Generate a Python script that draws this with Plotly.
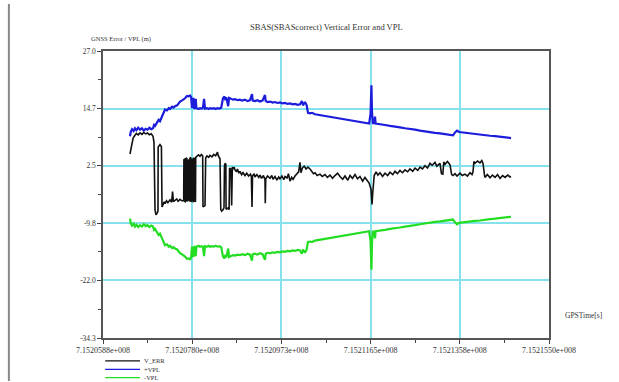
import plotly.graph_objects as go

# GPS epoch of the first x tick and spacing of the x ticks (seconds)
gps_t0 = 715205880
x_tick_step = 1924
x_tick_labels = ["7.1520588e+008", "7.1520780e+008", "7.1520973e+008",
                 "7.1521165e+008", "7.1521358e+008", "7.1521550e+008"]

y_tick_vals = [27.0, 14.7, 2.5, -9.8, -22.0, -34.3]
y_tick_labels = ["27.0", "14.7", "2.5", "-9.8", "-22.0", "-34.3"]

# Vertical position error (m), time offsets in seconds from gps_t0
err_t = [582, 600, 626, 650, 690, 720, 760, 798, 840, 880, 920, 960, 1000, 1040, 1079, 1100,
         1122, 1143, 1170, 1186, 1190, 1229, 1260, 1273, 1294, 1320, 1337, 1370, 1400, 1445,
         1480, 1500, 1520, 1553, 1590, 1620, 1661, 1700,
         1740, 1745, 1765, 1770, 1790, 1795, 1810, 1815, 1830, 1835, 1850, 1855, 1870, 1875,
         1890, 1895, 1910, 1915, 1930, 1935, 1950, 1955, 1975, 1980, 1995, 2000, 2020, 2028,
         2060, 2092, 2120, 2150, 2157, 2200, 2215, 2243, 2280, 2308, 2350, 2390, 2430, 2470,
         2481, 2510, 2524, 2540, 2560, 2588, 2610, 2620, 2632, 2650, 2655, 2700, 2720, 2730,
         2760, 2775, 2790, 2810, 2830, 2847, 2880, 2900, 2930, 2955, 2990, 3020, 3063, 3100,
         3140, 3180, 3200, 3214, 3225, 3260, 3279, 3320, 3360, 3386, 3420, 3460, 3494, 3500,
         3510, 3550, 3602, 3640, 3667, 3710, 3750, 3790, 3818, 3860, 3900, 3926, 3970, 4000,
         4034, 4070, 4100, 4141, 4180, 4220, 4249, 4270, 4300, 4340, 4380, 4420, 4465, 4508,
         4540, 4573, 4620, 4681, 4730, 4789, 4840, 4896, 4950, 5004, 5060, 5112, 5170, 5220,
         5280, 5328, 5380, 5436, 5490, 5543, 5600, 5651, 5700, 5740, 5780, 5802, 5820, 5850,
         5890, 5930, 5975, 6030, 6083, 6140, 6191, 6250, 6298, 6350, 6406, 6460, 6514, 6570,
         6622, 6680, 6730, 6790, 6838, 6890, 6946, 7000, 7053, 7100, 7161, 7200, 7269, 7300,
         7330, 7350, 7377, 7430, 7485, 7520, 7550, 7593, 7636, 7700, 7750, 7808, 7860, 7916,
         7960, 7981, 8000, 8024, 8080, 8132, 8170, 8197, 8230, 8240, 8290, 8348, 8400, 8456,
         8510, 8564, 8620, 8672, 8730, 8780, 8801]
err_v = [5.0, 6.0, 7.2, 8.4, 9.0, 9.4, 9.1, 9.5, 9.2, 9.6, 9.3, 9.5, 9.1, 9.3, 8.8, 7.5,
         -7.0, -8.0, -7.6, -7.2, 6.5, 7.0, 6.6, -6.3, -5.8, -5.2, -5.6, -5.0, -5.4, -4.8,
         -5.3, -3.0, -5.2, -5.0, -4.6, -5.1, -4.7, -5.0,
         -5.0, 3.8, 3.9, -5.3, -5.0, 4.2, 4.0, -5.1, -4.9, 3.5, 3.8, -4.8, -5.1, 4.1,
         4.3, -5.2, -5.0, 4.0, 3.8, -4.9, -5.3, 4.2, 4.0, -5.0, -5.2, 4.3, 4.5, 4.4,
         4.8, 4.5, 4.9, 4.6, -6.3, -6.0, 4.2, 4.6, 4.3, 4.7, 4.4, 4.9, 4.6, 5.4,
         4.8, 4.2, 4.0, -6.8, -7.2, -6.9, -6.5, 2.5, 3.0, 2.8, -6.8, -6.5, -6.9, 2.0,
         1.8, -6.0, 2.2, 1.9, 2.2, 1.6, 1.2, 1.8, 0.9, 1.3, 0.6, 1.0, 0.4, 0.9,
         0.3, 0.7, 0.2, -6.3, 0.3, 0.8, 0.1, 0.6, 0.0, 0.5, -0.2, 0.4, -0.5, -5.5,
         -0.3, 0.3, -0.2, 0.4, -0.4, 0.2, -0.6, 0.1, -0.3, 0.3, -0.5, 0.2, -0.1, 0.8,
         -0.8, 0.0, -0.4, 0.3, 0.7, 1.2, 3.2, 1.0, 2.0, 2.4, 1.8, 2.2, 1.8, 1.2,
         0.8, 1.0, 0.4, 0.7, 0.2, 0.6, 0.0, 0.5, -0.2, 0.4, 0.9, 0.2, -0.4, 0.3,
         -0.6, 0.4, -0.2, 0.6, -0.3, 0.2, -0.8, 0.0, -0.6, -1.2, -2.5, -5.8, -3.0, 0.4,
         1.2, 0.5, 1.0, 0.2, 0.9, 0.4, 1.1, 0.6, 1.3, 0.8, 1.5, 1.0, 1.6, 1.2,
         1.8, 1.3, 2.0, 1.5, 2.2, 1.8, 2.5, 2.0, 3.0, 2.6, 3.2, 2.4, 3.0, 0.8,
         0.7, 3.3, 2.8, 3.4, 2.7, 0.6, 0.4, 0.8, 0.3, 0.9, 0.4, 0.7, 0.3, 1.0,
         0.6, 1.2, 3.4, 3.0, 3.5, 3.1, 3.6, 3.0, 0.4, 0.0, 0.6, -0.1, 0.5, 0.0,
         0.6, -0.2, 0.4, 0.0, 0.5, 0.1, 0.2]

# Vertical protection level (m), time offsets in seconds from gps_t0
vpl_t = [582, 600, 626, 660, 690, 720, 760, 798, 840, 880, 920, 960, 1000, 1040, 1079, 1100,
         1122, 1160, 1200, 1229, 1260, 1294, 1320, 1337, 1380, 1420, 1445, 1490, 1520, 1553,
         1600, 1661, 1700, 1740, 1769, 1812, 1850, 1877, 1900, 1920, 1950, 1960, 1984, 2000,
         2015, 2060, 2092, 2130, 2157, 2180, 2200, 2243, 2280, 2308, 2350, 2390, 2430, 2470,
         2510, 2550, 2588, 2620, 2640, 2660, 2700, 2720, 2760, 2804, 2850, 2900, 2955, 3000,
         3063, 3120, 3171, 3214, 3230, 3279, 3330, 3386, 3440, 3494, 3510, 3550, 3602, 3660,
         3710, 3760, 3818, 3870, 3926, 3980, 4034, 4090, 4141, 4200, 4249, 4290, 4314, 4357,
         4390, 4422, 4465, 4508, 4573, 4630, 4681, 4740, 4789, 4850, 4896, 4950, 5004, 5060,
         5112, 5170, 5220, 5280, 5328, 5380, 5436, 5490, 5543, 5600, 5651, 5700, 5740, 5770,
         5790, 5802, 5820, 5850, 5867, 5880, 5975, 6083, 6191, 6298, 6406, 6514, 6622, 6730,
         6838, 6946, 7053, 7161, 7269, 7377, 7485, 7550, 7593, 7636, 7680, 7750, 7808, 7916,
         8024, 8132, 8240, 8348, 8456, 8564, 8672, 8780, 8801]
vpl_v = [8.8, 9.8, 10.3, 9.9, 10.5, 10.1, 10.6, 10.2, 10.5, 10.0, 10.4, 10.2, 10.6, 10.3, 10.5, 11.2,
         11.0, 11.8, 12.3, 12.0, 12.8, 13.6, 14.2, 14.5, 14.3, 14.8, 14.6, 15.1, 14.9, 15.2,
         15.4, 16.2, 16.4, 16.6, 16.9, 17.4, 17.3, 17.5, 17.2, 14.8, 17.0, 14.9, 14.7, 16.8,
         14.8, 14.6, 14.8, 14.7, 14.9, 16.8, 14.7, 14.8, 14.6, 14.8, 14.7, 14.8, 14.6, 14.8,
         14.7, 14.9, 16.9, 17.3, 16.5, 17.1, 15.2, 17.0, 16.8, 16.6, 16.7, 16.5, 16.6, 16.4,
         16.6, 16.3, 16.5, 17.8, 16.4, 16.3, 16.5, 16.2, 16.4, 17.6, 16.3, 16.1, 16.2, 16.0,
         16.1, 15.9, 16.0, 15.8, 15.9, 15.7, 15.8, 15.6, 15.7, 15.5, 15.6, 16.3, 15.4, 16.1,
         15.5, 13.8, 13.7, 13.8, 13.5, 13.4, 13.3, 13.2, 13.1, 13.0, 12.9, 12.8, 12.7, 12.6,
         12.5, 12.5, 12.3, 12.3, 12.1, 12.1, 12.0, 11.9, 11.8, 11.7, 11.6, 11.6, 11.5, 13.5,
         19.7, 14.0, 11.6, 11.6, 13.0, 11.5, 11.4, 11.2, 11.0, 10.9, 10.7, 10.5, 10.4, 10.2,
         10.0, 9.8, 9.7, 9.5, 9.4, 9.2, 9.1, 9.0, 9.6, 10.0, 9.7, 9.6, 9.5, 9.4,
         9.3, 9.2, 9.0, 8.9, 8.8, 8.7, 8.5, 8.4, 8.4]

err_x = [gps_t0 + t for t in err_t]
vpl_x = [gps_t0 + t for t in vpl_t]
neg_vpl = [-v for v in vpl_v]
x_tick_vals = [gps_t0 + i * x_tick_step for i in range(len(x_tick_labels))]
x_minor = [(a + b) / 2 for a, b in zip(x_tick_vals[:-1], x_tick_vals[1:])]
y_minor = [(a + b) / 2 for a, b in zip(y_tick_vals[:-1], y_tick_vals[1:])]

FONT = "Liberation Serif"
GRID = "#86e2ea"
TEXT = "#333333"

fig = go.Figure()
fig.add_trace(go.Scatter(x=vpl_x, y=vpl_v, mode="lines", name="+VPL",
                         line=dict(color="#1c1cdc", width=2.2)))
fig.add_trace(go.Scatter(x=vpl_x, y=neg_vpl, mode="lines", name="-VPL",
                         line=dict(color="#22dd22", width=2.2)))
fig.add_trace(go.Scatter(x=err_x, y=err_v, mode="lines", name="V_ERR",
                         line=dict(color="#111111", width=1.6)))

axis_common = dict(showline=True, linecolor="#555555", linewidth=1.5, mirror=True,
                   ticks="outside", ticklen=4, tickcolor="#444444",
                   showgrid=True, gridcolor=GRID, gridwidth=1.5, zeroline=False)

fig.update_xaxes(range=[x_tick_vals[0], x_tick_vals[-1]], tickmode="array",
                 tickvals=x_tick_vals, ticktext=x_tick_labels,
                 tickfont=dict(family=FONT, size=8, color=TEXT),
                 minor=dict(tickmode="array", tickvals=x_minor, ticks="outside",
                            ticklen=3, tickcolor="#444444", showgrid=False),
                 **axis_common)
fig.update_yaxes(range=[y_tick_vals[-1], y_tick_vals[0]], tickmode="array",
                 tickvals=y_tick_vals, ticktext=y_tick_labels,
                 tickfont=dict(family=FONT, size=7.5, color=TEXT),
                 minor=dict(tickmode="array", tickvals=y_minor, ticks="outside",
                            ticklen=3, tickcolor="#444444", showgrid=False),
                 **axis_common)

annotations = [
    dict(text="SBAS(SBAScorrect) Vertical Error and VPL", x=0.5, y=1.0, xref="paper",
         yref="paper", yshift=24, showarrow=False,
         font=dict(family=FONT, size=8.5, color=TEXT), xanchor="center", yanchor="middle"),
    dict(text="GNSS Error / VPL (m)", x=0.04, y=1.0, xref="paper", yref="paper", yshift=12,
         showarrow=False, font=dict(family=FONT, size=6.5, color=TEXT),
         xanchor="center", yanchor="middle"),
    dict(text="GPSTime[s]", x=1.0, y=0.0, xref="paper", yref="paper", xshift=14, yshift=23,
         showarrow=False, font=dict(family=FONT, size=7.5, color=TEXT),
         xanchor="left", yanchor="middle"),
]

# Legend drawn below the x axis: a short line sample followed by the series name
legend_rows = [("V_ERR", "#111111"), ("+VPL", "#1c1cdc"), ("-VPL", "#22dd22")]
shapes = []
for i, (name, color) in enumerate(legend_rows):
    yp = -0.080 - i * 0.029
    shapes.append(dict(type="line", xref="paper", yref="paper", x0=0.005, x1=0.083,
                       y0=yp, y1=yp, line=dict(color=color, width=1.2)))
    annotations.append(dict(text=name, x=0.088, y=yp, xref="paper", yref="paper",
                            showarrow=False, font=dict(family=FONT, size=6.5, color=TEXT),
                            xanchor="left", yanchor="middle"))

# Window frame on the left side
shapes.append(dict(type="line", xref="paper", yref="paper", x0=-0.211, x1=-0.211,
                   y0=1.164, y1=-0.15, line=dict(color="#888888", width=2)))

fig.update_layout(width=619, height=382, margin=dict(l=103, r=70, t=51, b=44),
                  paper_bgcolor="white", plot_bgcolor="white", showlegend=False,
                  annotations=annotations, shapes=shapes)

fig.write_html("out.html")
